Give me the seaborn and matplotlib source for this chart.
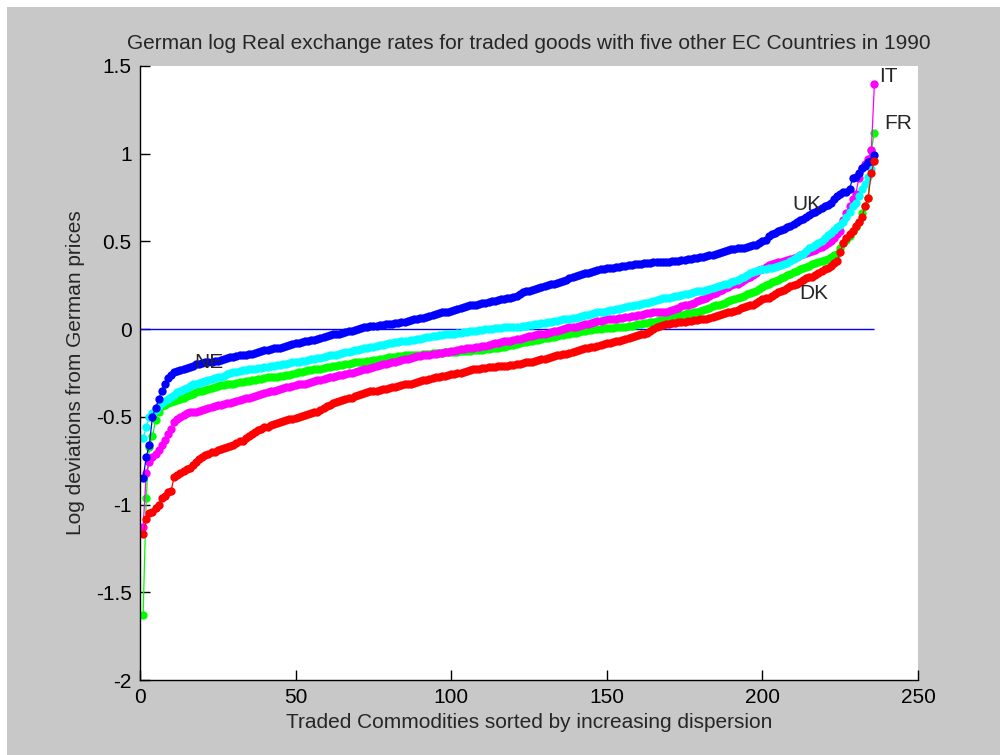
import matplotlib
matplotlib.use("Agg")
import matplotlib.pyplot as plt
import numpy as np
import pandas as pd
import seaborn as sns
from matplotlib.patches import Rectangle

# log deviations from German prices, each country sorted ascending (236 commodities)
UK = [-0.85, -0.73, -0.66, -0.50, -0.45, -0.40, -0.35, -0.31, -0.28, -0.26,
      -0.245, -0.24, -0.235, -0.225, -0.22, -0.215, -0.21, -0.20, -0.20, -0.195,
      -0.19, -0.19, -0.185, -0.18, -0.18, -0.175, -0.17, -0.165, -0.16, -0.16,
      -0.155, -0.15, -0.15, -0.145, -0.14, -0.14, -0.135, -0.13, -0.125, -0.12,
      -0.12, -0.115, -0.11, -0.11, -0.105, -0.10, -0.095, -0.09, -0.085, -0.08,
      -0.08, -0.075, -0.07, -0.065, -0.06, -0.06, -0.055, -0.05, -0.045, -0.04,
      -0.035, -0.03, -0.03, -0.025, -0.02, -0.015, -0.01, -0.01, -0.005, 0.00,
      0.005, 0.01, 0.015, 0.02, 0.02, 0.02, 0.025, 0.025, 0.03, 0.03,
      0.03, 0.035, 0.035, 0.04, 0.04, 0.045, 0.05, 0.055, 0.06, 0.065,
      0.065, 0.07, 0.075, 0.08, 0.085, 0.09, 0.095, 0.10, 0.10, 0.105,
      0.11, 0.115, 0.12, 0.125, 0.13, 0.135, 0.14, 0.14, 0.145, 0.15,
      0.15, 0.155, 0.16, 0.16, 0.165, 0.17, 0.17, 0.175, 0.18, 0.185,
      0.19, 0.20, 0.21, 0.215, 0.22, 0.225, 0.23, 0.235, 0.24, 0.245,
      0.25, 0.255, 0.26, 0.265, 0.27, 0.275, 0.28, 0.29, 0.30, 0.305,
      0.31, 0.315, 0.32, 0.32, 0.325, 0.33, 0.335, 0.34, 0.345, 0.35,
      0.35, 0.35, 0.355, 0.355, 0.36, 0.36, 0.365, 0.365, 0.37, 0.37,
      0.37, 0.375, 0.375, 0.375, 0.38, 0.38, 0.38, 0.385, 0.385, 0.385,
      0.39, 0.39, 0.39, 0.395, 0.395, 0.40, 0.40, 0.405, 0.405, 0.41,
      0.41, 0.415, 0.42, 0.425, 0.43, 0.435, 0.44, 0.445, 0.45, 0.455,
      0.455, 0.46, 0.465, 0.465, 0.47, 0.475, 0.48, 0.48, 0.49, 0.50,
      0.51, 0.53, 0.54, 0.55, 0.56, 0.565, 0.57, 0.58, 0.59, 0.60,
      0.61, 0.62, 0.63, 0.64, 0.65, 0.66, 0.67, 0.68, 0.69, 0.70,
      0.71, 0.72, 0.74, 0.76, 0.77, 0.78, 0.78, 0.80, 0.86, 0.87,
      0.89, 0.92, 0.93, 0.95, 0.96, 0.99]

NE = [-0.62, -0.56, -0.50, -0.48, -0.46, -0.44, -0.42, -0.41, -0.40, -0.385,
      -0.375, -0.36, -0.35, -0.34, -0.335, -0.325, -0.315, -0.31, -0.305, -0.30,
      -0.295, -0.29, -0.285, -0.28, -0.275, -0.27, -0.265, -0.255, -0.25, -0.245,
      -0.245, -0.24, -0.235, -0.235, -0.23, -0.225, -0.225, -0.22, -0.22, -0.215,
      -0.215, -0.21, -0.21, -0.205, -0.205, -0.20, -0.20, -0.195, -0.19, -0.19,
      -0.185, -0.18, -0.18, -0.175, -0.17, -0.17, -0.165, -0.165, -0.16, -0.155,
      -0.15, -0.145, -0.145, -0.14, -0.135, -0.13, -0.13, -0.125, -0.12, -0.12,
      -0.115, -0.11, -0.105, -0.10, -0.10, -0.095, -0.09, -0.09, -0.085, -0.08,
      -0.08, -0.075, -0.075, -0.07, -0.07, -0.065, -0.06, -0.06, -0.055, -0.055,
      -0.05, -0.045, -0.045, -0.04, -0.04, -0.035, -0.035, -0.03, -0.03, -0.025,
      -0.025, -0.02, -0.02, -0.015, -0.015, -0.01, -0.01, -0.01, -0.005, -0.005,
      0.00, 0.00, 0.00, 0.005, 0.005, 0.005, 0.01, 0.01, 0.01, 0.01,
      0.015, 0.015, 0.02, 0.02, 0.025, 0.025, 0.03, 0.03, 0.035, 0.035,
      0.04, 0.04, 0.045, 0.045, 0.05, 0.055, 0.055, 0.06, 0.065, 0.065,
      0.07, 0.075, 0.08, 0.08, 0.085, 0.09, 0.095, 0.095, 0.10, 0.105,
      0.11, 0.11, 0.115, 0.115, 0.12, 0.125, 0.13, 0.13, 0.135, 0.14,
      0.145, 0.15, 0.15, 0.155, 0.16, 0.165, 0.17, 0.175, 0.175, 0.18,
      0.185, 0.19, 0.19, 0.195, 0.20, 0.20, 0.205, 0.21, 0.215, 0.22,
      0.22, 0.225, 0.23, 0.235, 0.24, 0.245, 0.25, 0.255, 0.26, 0.27,
      0.275, 0.28, 0.29, 0.30, 0.31, 0.32, 0.325, 0.33, 0.335, 0.34,
      0.345, 0.35, 0.35, 0.355, 0.36, 0.365, 0.37, 0.375, 0.39, 0.40,
      0.41, 0.42, 0.43, 0.445, 0.46, 0.47, 0.48, 0.49, 0.50, 0.52,
      0.535, 0.55, 0.565, 0.58, 0.595, 0.61, 0.64, 0.67, 0.70, 0.72,
      0.76, 0.80, 0.83, 0.87, 0.91, 0.96]

FR = [-1.63, -0.96, -0.67, -0.61, -0.52, -0.47, -0.44, -0.43, -0.42, -0.415,
      -0.41, -0.405, -0.40, -0.39, -0.38, -0.375, -0.37, -0.36, -0.355, -0.35,
      -0.345, -0.34, -0.335, -0.33, -0.325, -0.32, -0.32, -0.315, -0.31, -0.31,
      -0.305, -0.30, -0.30, -0.295, -0.295, -0.29, -0.29, -0.285, -0.285, -0.28,
      -0.275, -0.275, -0.27, -0.27, -0.265, -0.265, -0.26, -0.26, -0.255, -0.25,
      -0.245, -0.245, -0.24, -0.235, -0.235, -0.23, -0.225, -0.225, -0.22, -0.215,
      -0.215, -0.21, -0.21, -0.205, -0.205, -0.20, -0.20, -0.195, -0.19, -0.19,
      -0.185, -0.185, -0.18, -0.18, -0.175, -0.175, -0.17, -0.17, -0.165, -0.16,
      -0.16, -0.16, -0.155, -0.155, -0.15, -0.15, -0.15, -0.145, -0.145, -0.145,
      -0.14, -0.14, -0.14, -0.135, -0.135, -0.135, -0.135, -0.13, -0.13, -0.13,
      -0.13, -0.13, -0.125, -0.125, -0.125, -0.125, -0.12, -0.12, -0.12, -0.12,
      -0.115, -0.115, -0.11, -0.11, -0.105, -0.10, -0.10, -0.095, -0.09, -0.09,
      -0.085, -0.08, -0.075, -0.075, -0.07, -0.065, -0.06, -0.06, -0.055, -0.05,
      -0.05, -0.045, -0.045, -0.04, -0.035, -0.035, -0.03, -0.025, -0.02, -0.02,
      -0.015, -0.01, -0.01, -0.005, -0.005, 0.00, 0.00, 0.00, 0.005, 0.005,
      0.005, 0.006, 0.01, 0.01, 0.015, 0.015, 0.02, 0.02, 0.025, 0.03,
      0.03, 0.035, 0.035, 0.04, 0.04, 0.045, 0.05, 0.05, 0.055, 0.06,
      0.065, 0.07, 0.075, 0.08, 0.085, 0.09, 0.09, 0.095, 0.10, 0.105,
      0.11, 0.115, 0.12, 0.13, 0.135, 0.14, 0.145, 0.15, 0.16, 0.165,
      0.17, 0.18, 0.185, 0.19, 0.20, 0.205, 0.21, 0.22, 0.23, 0.24,
      0.25, 0.26, 0.27, 0.275, 0.28, 0.29, 0.30, 0.31, 0.315, 0.325,
      0.33, 0.34, 0.35, 0.355, 0.36, 0.37, 0.375, 0.38, 0.39, 0.395,
      0.40, 0.41, 0.42, 0.43, 0.46, 0.49, 0.51, 0.53, 0.56, 0.58,
      0.61, 0.66, 0.70, 0.75, 1.02, 1.12]

IT = [-1.13, -0.82, -0.76, -0.73, -0.71, -0.69, -0.66, -0.63, -0.60, -0.57,
      -0.53, -0.51, -0.50, -0.49, -0.48, -0.475, -0.47, -0.47, -0.465, -0.46,
      -0.455, -0.45, -0.445, -0.44, -0.435, -0.43, -0.425, -0.42, -0.42, -0.415,
      -0.41, -0.405, -0.40, -0.395, -0.39, -0.385, -0.38, -0.375, -0.37, -0.365,
      -0.36, -0.355, -0.35, -0.345, -0.34, -0.335, -0.33, -0.33, -0.325, -0.32,
      -0.315, -0.31, -0.31, -0.305, -0.30, -0.295, -0.29, -0.29, -0.285, -0.28,
      -0.275, -0.27, -0.265, -0.26, -0.26, -0.255, -0.25, -0.25, -0.245, -0.24,
      -0.235, -0.23, -0.225, -0.22, -0.215, -0.21, -0.205, -0.20, -0.20, -0.195,
      -0.19, -0.185, -0.18, -0.175, -0.17, -0.17, -0.165, -0.16, -0.155, -0.155,
      -0.15, -0.145, -0.145, -0.14, -0.14, -0.135, -0.135, -0.13, -0.13, -0.125,
      -0.125, -0.12, -0.115, -0.115, -0.11, -0.11, -0.105, -0.10, -0.10, -0.095,
      -0.095, -0.09, -0.085, -0.08, -0.08, -0.075, -0.07, -0.07, -0.065, -0.06,
      -0.055, -0.055, -0.05, -0.045, -0.04, -0.04, -0.035, -0.03, -0.03, -0.025,
      -0.02, -0.015, -0.01, -0.01, -0.005, 0.00, 0.005, 0.01, 0.015, 0.015,
      0.02, 0.025, 0.03, 0.03, 0.035, 0.04, 0.045, 0.045, 0.05, 0.055,
      0.055, 0.06, 0.06, 0.065, 0.065, 0.07, 0.07, 0.075, 0.075, 0.08,
      0.08, 0.085, 0.09, 0.09, 0.095, 0.095, 0.10, 0.10, 0.10, 0.105,
      0.11, 0.115, 0.12, 0.13, 0.135, 0.14, 0.145, 0.15, 0.16, 0.165,
      0.17, 0.18, 0.19, 0.20, 0.205, 0.215, 0.225, 0.235, 0.24, 0.25,
      0.255, 0.26, 0.27, 0.28, 0.29, 0.30, 0.31, 0.32, 0.335, 0.345,
      0.355, 0.365, 0.37, 0.375, 0.38, 0.385, 0.39, 0.395, 0.40, 0.405,
      0.41, 0.42, 0.43, 0.435, 0.44, 0.445, 0.45, 0.46, 0.47, 0.48,
      0.49, 0.50, 0.52, 0.54, 0.56, 0.62, 0.66, 0.70, 0.74, 0.77,
      0.86, 0.92, 0.94, 0.97, 1.02, 1.40]

DK = [-1.17, -1.08, -1.05, -1.04, -1.02, -1.00, -0.96, -0.95, -0.93, -0.92,
      -0.84, -0.83, -0.82, -0.81, -0.80, -0.79, -0.775, -0.76, -0.74, -0.73,
      -0.72, -0.71, -0.70, -0.70, -0.69, -0.685, -0.68, -0.67, -0.665, -0.66,
      -0.65, -0.64, -0.635, -0.62, -0.61, -0.60, -0.585, -0.575, -0.57, -0.56,
      -0.555, -0.545, -0.54, -0.535, -0.53, -0.525, -0.52, -0.51, -0.51, -0.505,
      -0.50, -0.495, -0.49, -0.485, -0.48, -0.475, -0.47, -0.46, -0.45, -0.44,
      -0.43, -0.42, -0.415, -0.41, -0.405, -0.40, -0.395, -0.39, -0.38, -0.375,
      -0.37, -0.365, -0.36, -0.355, -0.35, -0.35, -0.345, -0.34, -0.34, -0.335,
      -0.33, -0.33, -0.325, -0.32, -0.315, -0.315, -0.31, -0.305, -0.30, -0.295,
      -0.29, -0.29, -0.285, -0.28, -0.275, -0.27, -0.265, -0.265, -0.26, -0.255,
      -0.255, -0.25, -0.25, -0.245, -0.24, -0.235, -0.23, -0.225, -0.225, -0.22,
      -0.22, -0.215, -0.215, -0.215, -0.21, -0.21, -0.21, -0.21, -0.205, -0.205,
      -0.20, -0.20, -0.195, -0.19, -0.19, -0.185, -0.18, -0.175, -0.17, -0.17,
      -0.165, -0.16, -0.155, -0.15, -0.145, -0.14, -0.14, -0.135, -0.13, -0.125,
      -0.12, -0.115, -0.11, -0.105, -0.10, -0.10, -0.095, -0.09, -0.085, -0.08,
      -0.08, -0.075, -0.07, -0.065, -0.06, -0.055, -0.05, -0.045, -0.04, -0.035,
      -0.03, -0.025, -0.02, -0.01, 0.00, 0.01, 0.02, 0.025, 0.03, 0.03,
      0.035, 0.035, 0.04, 0.04, 0.04, 0.045, 0.045, 0.05, 0.05, 0.055,
      0.06, 0.06, 0.065, 0.07, 0.075, 0.08, 0.085, 0.09, 0.095, 0.10,
      0.105, 0.11, 0.12, 0.125, 0.13, 0.135, 0.14, 0.15, 0.16, 0.17,
      0.175, 0.18, 0.19, 0.20, 0.21, 0.215, 0.225, 0.235, 0.245, 0.25,
      0.26, 0.27, 0.28, 0.29, 0.295, 0.30, 0.31, 0.32, 0.33, 0.34,
      0.35, 0.36, 0.375, 0.39, 0.44, 0.49, 0.52, 0.54, 0.56, 0.59,
      0.61, 0.64, 0.70, 0.75, 0.89, 0.96]

# drawing order (bottom to top) and colours
countries = ["FR", "IT", "NE", "UK", "DK"]
values = {"UK": UK, "NE": NE, "FR": FR, "IT": IT, "DK": DK}
colors = {"UK": "#0000ff", "NE": "#00ffff", "FR": "#00ff00", "IT": "#ff00ff", "DK": "#ff0000"}

rows = []
for c in countries:
    for i, v in enumerate(values[c], start=1):
        rows.append((c, i, v))
df = pd.DataFrame(rows, columns=["country", "commodity", "logdev"])

sns.set_style("ticks")
plt.rcParams["font.family"] = ["Liberation Sans", "DejaVu Sans"]

fig = plt.figure(figsize=(10, 7.55), dpi=100)
fig.patch.set_facecolor("white")
fig.patches.append(Rectangle((0.007, 0), 0.993, 0.991, transform=fig.transFigure,
                             facecolor="#c8c8c8", edgecolor="none", zorder=-10))
ax = fig.add_axes([0.14, 0.0993, 0.778, 0.8133])
ax.set_facecolor("white")

n = len(UK)
ax.hlines(0, 0, n, colors="#0000ff", linewidth=1, zorder=1)

for c in countries:
    sub = df[df["country"] == c]
    sns.lineplot(data=sub, x="commodity", y="logdev", ax=ax, color=colors[c],
                 marker="o", markersize=6, markeredgewidth=0, linewidth=0.9,
                 zorder=2, legend=False)

# country labels near the curve ends
ax.text(237.5, 1.44, "IT", fontsize=15, va="center", ha="left")
ax.text(239, 1.17, "FR", fontsize=15, va="center", ha="left")
ax.text(209.5, 0.71, "UK", fontsize=15, va="center", ha="left")
ax.text(212, 0.205, "DK", fontsize=15, va="center", ha="left")
ax.text(17.5, -0.19, "NE", fontsize=15, va="center", ha="left")

ax.set_xlim(0, 250)
ax.set_ylim(-2, 1.5)
ax.set_xticks([0, 50, 100, 150, 200, 250])
ax.set_yticks([-2, -1.5, -1, -0.5, 0, 0.5, 1, 1.5])
ax.set_yticklabels(["-2", "-1.5", "-1", "-0.5", "0", "0.5", "1", "1.5"])
ax.tick_params(direction="in", length=7, width=1, labelsize=15, colors="black",
               top=False, right=False, pad=6)
for s in ["top", "right"]:
    ax.spines[s].set_visible(False)
for s in ["left", "bottom"]:
    ax.spines[s].set_color("black")
    ax.spines[s].set_linewidth(1)

ax.set_title("German log Real exchange rates for traded goods with five other EC Countries in 1990",
             fontsize=15, pad=12)
ax.set_xlabel("Traded Commodities sorted by increasing dispersion", fontsize=15, labelpad=4)
ax.set_ylabel("Log deviations from German prices", fontsize=15, labelpad=8)

fig.savefig("out.png", dpi=100, facecolor=fig.get_facecolor())
